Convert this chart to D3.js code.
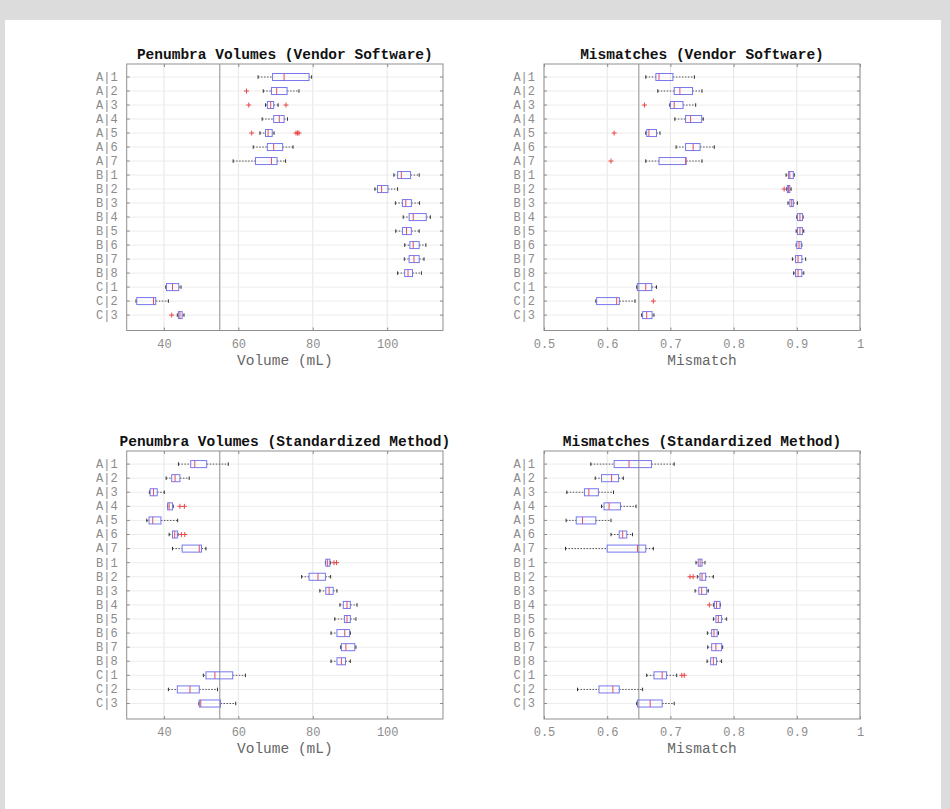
<!DOCTYPE html>
<meta charset="utf-8">
<title>Penumbra volumes and mismatches</title>
<style>
  html, body {
    margin: 0;
    padding: 0;
    background-color: #dcdcdc;
  }
  svg { display: block; }
  .tick-label { font-family: 'Liberation Mono', 'DejaVu Sans Mono', monospace; font-size: 12px; fill: #8c8c8c; }
  .title { font-family: 'Liberation Mono', monospace; font-size: 14.5px; font-weight: bold; fill: #111; }
  .xlabel { font-family: 'Liberation Mono', monospace; font-size: 14.5px; fill: #666; }
</style>
<body>
<script src="https://cdnjs.cloudflare.com/ajax/libs/d3/7.8.5/d3.min.js"></script>
<script>

// row labels, top to bottom
var groups = ["A|1", "A|2", "A|3", "A|4", "A|5", "A|6", "A|7",
              "B|1", "B|2", "B|3", "B|4", "B|5", "B|6", "B|7", "B|8",
              "C|1", "C|2", "C|3"];

var volumeTicks = [40, 60, 80, 100];
var mismatchTicks = [0.5, 0.6, 0.7, 0.8, 0.9, 1];

// box stats per row: [lower whisker, q1, median, q3, upper whisker]
var vendorVolume = [
  [65.3, 69.2, 72.3, 79, 79.7], [66.7, 68.9, 70.3, 73.1, 76.3], [67.3, 67.8, 68.7, 69.5, 70.7],
  [66.4, 69.5, 71, 72.3, 73.2], [65.8, 67.3, 68, 69.1, 69.6], [64, 67.8, 69.5, 71.9, 74.7],
  [58.6, 64.6, 68.9, 70.4, 72.7],
  [101.8, 102.8, 103.8, 106.3, 108.6], [96.7, 97.4, 98.5, 100.2, 102.8], [102.2, 104.1, 105, 106.5, 108.7],
  [104.3, 105.9, 107, 110.5, 111.6], [102.3, 104.1, 105.2, 106.5, 108.6], [104.7, 106.1, 107, 108.6, 110.4],
  [104.6, 105.9, 107.2, 108.6, 109.9], [102.8, 104.7, 105.6, 106.8, 109.2],
  [40.5, 40.7, 42.3, 44, 44.6], [32.5, 32.7, 37.2, 37.8, 41.2], [43.6, 43.9, 44.3, 44.9, 45.4]
];
var vendorVolumeOut = [[], [62.2], [62.8, 72.8], [], [63.6, 75.5, 75.9, 76.3], [], [],
  [], [], [], [], [], [], [], [], [], [], [42.1]];

var vendorMismatch = [
  [0.661, 0.677, 0.682, 0.704, 0.738], [0.68, 0.706, 0.715, 0.735, 0.75], [0.699, 0.70, 0.706, 0.72, 0.74],
  [0.707, 0.724, 0.732, 0.7495, 0.752], [0.661, 0.6625, 0.666, 0.678, 0.6835], [0.709, 0.724, 0.736, 0.747, 0.7695],
  [0.661, 0.682, 0.724, 0.725, 0.75],
  [0.883, 0.887, 0.889, 0.8945, 0.896], [0.884, 0.885, 0.887, 0.889, 0.891], [0.886, 0.889, 0.892, 0.8945, 0.901],
  [0.9, 0.901, 0.905, 0.909, 0.91], [0.899, 0.901, 0.905, 0.909, 0.911], [0.899, 0.9, 0.9035, 0.907, 0.908],
  [0.893, 0.898, 0.902, 0.908, 0.914], [0.895, 0.898, 0.902, 0.908, 0.911],
  [0.6467, 0.6477, 0.661, 0.6705, 0.678], [0.582, 0.5833, 0.615, 0.6192, 0.644], [0.6545, 0.656, 0.6625, 0.671, 0.674]
];
var vendorMismatchOut = [[], [], [0.659], [], [0.611], [], [0.606],
  [], [0.88], [], [], [], [], [], [], [], [0.673], []];

var standardVolume = [
  [43.9, 47.2, 48.3, 51.5, 57.3], [40.6, 42.1, 43, 44.3, 46.8], [36.1, 36.3, 37.2, 38.2, 40.1],
  [41, 41, 41.4, 42.3, 42.5], [35.4, 36, 37, 39.2, 43.7], [41.4, 42.3, 42.9, 43.6, 43.8],
  [42.3, 44.9, 49.5, 50.1, 51.3],
  [83.4, 83.5, 84, 84.6, 84.8], [77, 79, 81.4, 83.4, 84.8], [81.9, 83.5, 84.4, 85.5, 86.5],
  [87.3, 88.2, 89.2, 90.1, 91.9], [85.9, 88.5, 89.2, 90.1, 91.6], [84.9, 86.5, 88.6, 89.9, 90.1],
  [87.5, 87.7, 88.9, 91.3, 91.6], [84.9, 86.5, 87.7, 88.8, 90.1],
  [50.6, 51.3, 53.7, 58.5, 61.9], [41.2, 43.6, 47, 49.5, 54.4], [49.4, 49.5, 49.9, 55.2, 59.3]
];
var standardVolumeOut = [[], [], [], [44.3, 45.5], [], [44.7, 45.6], [],
  [85.7, 86.4], [], [], [], [], [], [], [], [], [], []];

var standardMismatch = [
  [0.574, 0.611, 0.6345, 0.670, 0.706], [0.581, 0.591, 0.607, 0.618, 0.6255], [0.536, 0.564, 0.571, 0.586, 0.61],
  [0.591, 0.595, 0.603, 0.621, 0.6456], [0.535, 0.551, 0.561, 0.582, 0.606], [0.606, 0.619, 0.6245, 0.631, 0.640],
  [0.534, 0.600, 0.648, 0.661, 0.673],
  [0.7405, 0.744, 0.747, 0.750, 0.7547], [0.7426, 0.7468, 0.750, 0.7558, 0.768], [0.739, 0.745, 0.7495, 0.7574, 0.760],
  [0.768, 0.7695, 0.773, 0.7785, 0.779], [0.768, 0.772, 0.7758, 0.781, 0.789], [0.7585, 0.7653, 0.769, 0.774, 0.776],
  [0.759, 0.7653, 0.772, 0.781, 0.7827], [0.758, 0.7637, 0.768, 0.773, 0.781],
  [0.6625, 0.674, 0.687, 0.694, 0.71], [0.553, 0.587, 0.609, 0.619, 0.656], [0.6467, 0.648, 0.668, 0.687, 0.706]
];
var standardMismatchOut = [[], [], [], [], [], [], [],
  [], [0.731, 0.736], [], [0.7616], [], [], [], [], [0.718, 0.722], [], []];

var width = 950, height = 809;

var svg = d3.select("body").append("svg")
    .attr("width", width)
    .attr("height", height);

// white figure area inside the grey frame
svg.append("rect")
    .attr("x", 5).attr("y", 20)
    .attr("width", 936).attr("height", height - 20)
    .attr("fill", "#fff");

var boxColor = "#7777ee", medColor = "#d9506a", outColor = "#e84848";

function drawPanel(p) {
  var x = d3.scaleLinear().domain(p.domain).range([p.left, p.right]);
  var y = d3.scaleLinear().domain([0.07, 19.1]).range([p.top, p.bottom]);
  var g = svg.append("g");

  // grid lines
  g.selectAll(".vgrid").data(p.ticks).enter().append("line")
      .attr("x1", function(d) { return x(d); }).attr("x2", function(d) { return x(d); })
      .attr("y1", p.top).attr("y2", p.bottom)
      .attr("stroke", "#e6e6e6").attr("stroke-width", 1);
  g.selectAll(".hgrid").data(groups).enter().append("line")
      .attr("x1", p.left).attr("x2", p.right)
      .attr("y1", function(d, i) { return y(i + 1); }).attr("y2", function(d, i) { return y(i + 1); })
      .attr("stroke", "#ececec").attr("stroke-width", 1);

  // reference line
  g.append("line")
      .attr("x1", x(p.ref)).attr("x2", x(p.ref))
      .attr("y1", p.top).attr("y2", p.bottom)
      .attr("stroke", "#a8a8a8").attr("stroke-width", 1.3);

  // axes, ticks inside on all four sides
  var axB = d3.axisBottom(x).tickValues(p.ticks).tickSizeInner(-3).tickSizeOuter(0).tickFormat(d3.format("~g"));
  var axT = d3.axisTop(x).tickValues(p.ticks).tickSizeInner(-3).tickSizeOuter(0).tickFormat("");
  var yb = d3.scaleBand().domain(groups).range([y(0.5), y(18.5)]);
  var axL = d3.axisLeft(yb).tickSizeInner(-3).tickSizeOuter(0).tickPadding(9);
  var axR = d3.axisRight(yb).tickSizeInner(-3).tickSizeOuter(0).tickFormat("");

  [[axB, "translate(0," + p.bottom + ")"], [axT, "translate(0," + p.top + ")"],
   [axL, "translate(" + p.left + ",0)"], [axR, "translate(" + p.right + ",0)"]].forEach(function(a) {
    var ax = g.append("g").attr("transform", a[1]).call(a[0]);
    ax.select(".domain").remove();
    ax.selectAll("line").attr("stroke", "#8a8a8a");
    ax.selectAll("text").attr("class", "tick-label").attr("fill", null);
  });
  g.selectAll(".tick-label").filter(function() { return this.parentNode.parentNode.getAttribute("transform") === "translate(0," + p.bottom + ")"; })
      .attr("dy", null).attr("y", 17);

  g.append("rect")
      .attr("x", p.left).attr("y", p.top)
      .attr("width", p.right - p.left).attr("height", p.bottom - p.top)
      .attr("fill", "none").attr("stroke", "#8f8f8f").attr("stroke-width", 1);

  // boxes
  var bh = (y(1.25) - y(0.75));
  var rows = g.selectAll(".row").data(p.stats).enter().append("g")
      .attr("transform", function(d, i) { return "translate(0," + y(i + 1) + ")"; });

  rows.append("line")   // whiskers
      .attr("x1", function(d) { return x(d[0]); }).attr("x2", function(d) { return x(d[1]); })
      .attr("stroke", "#555").attr("stroke-dasharray", "1.5,1.5");
  rows.append("line")
      .attr("x1", function(d) { return x(d[3]); }).attr("x2", function(d) { return x(d[4]); })
      .attr("stroke", "#555").attr("stroke-dasharray", "1.5,1.5");
  [0, 4].forEach(function(k) {
    rows.append("line")
        .attr("x1", function(d) { return x(d[k]); }).attr("x2", function(d) { return x(d[k]); })
        .attr("y1", -bh / 4).attr("y2", bh / 4)
        .attr("stroke", "#333");
  });
  rows.append("rect")
      .attr("x", function(d) { return x(d[1]); })
      .attr("y", -bh / 2)
      .attr("width", function(d) { return Math.max(1, x(d[3]) - x(d[1])); })
      .attr("height", bh)
      .attr("fill", "none").attr("stroke", boxColor).attr("stroke-width", 1);
  rows.append("line")
      .attr("x1", function(d) { return x(d[2]); }).attr("x2", function(d) { return x(d[2]); })
      .attr("y1", -bh / 2).attr("y2", bh / 2)
      .attr("stroke", medColor).attr("stroke-width", 1);

  // outliers as red plus signs
  var outs = [];
  p.outliers.forEach(function(list, i) { list.forEach(function(v) { outs.push([i + 1, v]); }); });
  g.selectAll(".out").data(outs).enter().append("path")
      .attr("transform", function(d) { return "translate(" + x(d[1]) + "," + y(d[0]) + ")"; })
      .attr("d", "M-2.5,0H2.5M0,-2.5V2.5")
      .attr("stroke", outColor).attr("stroke-width", 1);

  // title and axis label
  g.append("text").attr("class", "title")
      .attr("x", (p.left + p.right) / 2).attr("y", p.top - 5)
      .attr("text-anchor", "middle").text(p.title);
  g.append("text").attr("class", "xlabel")
      .attr("x", (p.left + p.right) / 2).attr("y", p.bottom + 34)
      .attr("text-anchor", "middle").text(p.xlabel);
}

drawPanel({ title: "Penumbra Volumes (Vendor Software)", xlabel: "Volume (mL)",
  left: 126.7, right: 443, top: 64, bottom: 330.5, domain: [30, 115], ticks: volumeTicks, ref: 55,
  stats: vendorVolume, outliers: vendorVolumeOut });
drawPanel({ title: "Mismatches (Vendor Software)", xlabel: "Mismatch",
  left: 544, right: 860, top: 64, bottom: 330.5, domain: [0.5, 1], ticks: mismatchTicks, ref: 0.65,
  stats: vendorMismatch, outliers: vendorMismatchOut });
drawPanel({ title: "Penumbra Volumes (Standardized Method)", xlabel: "Volume (mL)",
  left: 126.7, right: 443, top: 451, bottom: 719, domain: [30, 115], ticks: volumeTicks, ref: 55,
  stats: standardVolume, outliers: standardVolumeOut });
drawPanel({ title: "Mismatches (Standardized Method)", xlabel: "Mismatch",
  left: 544, right: 860, top: 451, bottom: 719, domain: [0.5, 1], ticks: mismatchTicks, ref: 0.65,
  stats: standardMismatch, outliers: standardMismatchOut });

</script>
</body>
